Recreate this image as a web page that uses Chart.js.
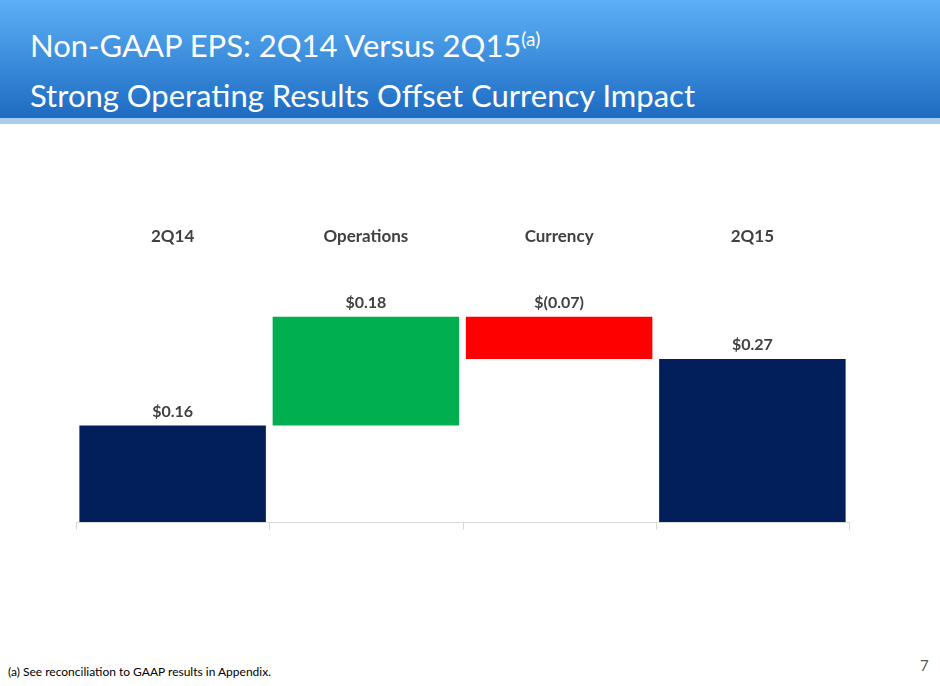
<!DOCTYPE html>
<html><head><meta charset="utf-8">
<script src="https://cdn.jsdelivr.net/npm/chart.js@4"></script>
<style>
body{margin:0;width:940px;height:686px;position:relative;background:#fff;font-family:Lato,"Open Sans",sans-serif;overflow:hidden}
#hdr{position:absolute;left:0;top:0;width:940px;height:118px;background:linear-gradient(#5cb0f6,#1d6bc2)}
#stripe{position:absolute;left:0;top:118px;width:940px;height:6px;background:#a9cdef}
.t{position:absolute;left:30px;color:#fff;font-size:31px;white-space:nowrap}
.t sup{font-size:19px;vertical-align:11px}
#wrap{position:absolute;left:75px;top:200px;width:775px;height:332px}
#foot{position:absolute;left:8px;top:664px;font-size:12px;color:#000}
#pg{position:absolute;left:920px;top:656px;font-size:15px;color:#555}
</style></head><body>
<div id="hdr"></div><div id="stripe"></div>
<div class="t" style="top:26px">Non-GAAP EPS: 2Q14 Versus 2Q15<sup>(a)</sup></div>
<div class="t" style="top:76px">Strong Operating Results Offset Currency Impact</div>
<div id="wrap"><canvas id="c"></canvas></div>
<div id="foot">(a) See reconciliation to GAAP results in Appendix.</div>
<div id="pg">7</div>
<script>
// waterfall data
const categories = ['2Q14', 'Operations', 'Currency', '2Q15'];
const changes = [0.16, 0.18, -0.07, 0.27];
const valueLabels = ['$0.16', '$0.18', '$(0.07)', '$0.27'];
const colors = ['#021e5b', '#00b050', '#ff0000', '#021e5b'];

// build floating ranges
const ranges = [];
let run = 0;
changes.forEach((v, i) => {
  if (i === 0 || i === changes.length - 1) { ranges.push([0, v]); run = v; }
  else { ranges.push([run, run + v]); run += v; }
});

const labelPlugin = {
  id: 'lbls',
  afterDatasetsDraw(chart) {
    const ctx = chart.ctx;
    const meta = chart.getDatasetMeta(0);
    ctx.save();
    ctx.font = 'bold 16px Lato, sans-serif';
    ctx.fillStyle = '#404040';
    ctx.textAlign = 'center';
    ctx.textBaseline = 'bottom';
    meta.data.forEach((bar, i) => {
      const top = Math.min(bar.y, bar.base);
      ctx.fillText(valueLabels[i], bar.x, top - 6);
    });
    // baseline + tick marks
    const a = chart.chartArea;
    ctx.strokeStyle = '#d9d9d9';
    ctx.lineWidth = 1;
    ctx.beginPath();
    ctx.moveTo(a.left, a.bottom + 0.5); ctx.lineTo(a.right, a.bottom + 0.5);
    const w = (a.right - a.left) / categories.length;
    for (let i = 0; i <= categories.length; i++) {
      const px = Math.round(a.left + i * w) + 0.5;
      ctx.moveTo(px, a.bottom); ctx.lineTo(px, a.bottom + 8);
    }
    ctx.stroke();
    ctx.restore();
  }
};

new Chart(document.getElementById('c'), {
  type: 'bar',
  data: {
    labels: categories,
    datasets: [{ data: ranges, backgroundColor: colors, categoryPercentage: 1, barPercentage: 0.965 }]
  },
  options: {
    responsive: true, maintainAspectRatio: false, animation: false,
    layout: { padding: { top: 4, bottom: 10, left: 1, right: 1 } },
    plugins: { legend: { display: false }, tooltip: { enabled: false } },
    scales: {
      x: {
        position: 'top',
        grid: { display: false, drawTicks: false },
        border: { display: false },
        ticks: { color: '#404040', font: { family: 'Lato', size: 17, weight: 'bold' }, padding: 22 }
      },
      y: { display: false, min: 0, max: 0.42 }
    }
  },
  plugins: [labelPlugin]
});
</script>
</body></html>
